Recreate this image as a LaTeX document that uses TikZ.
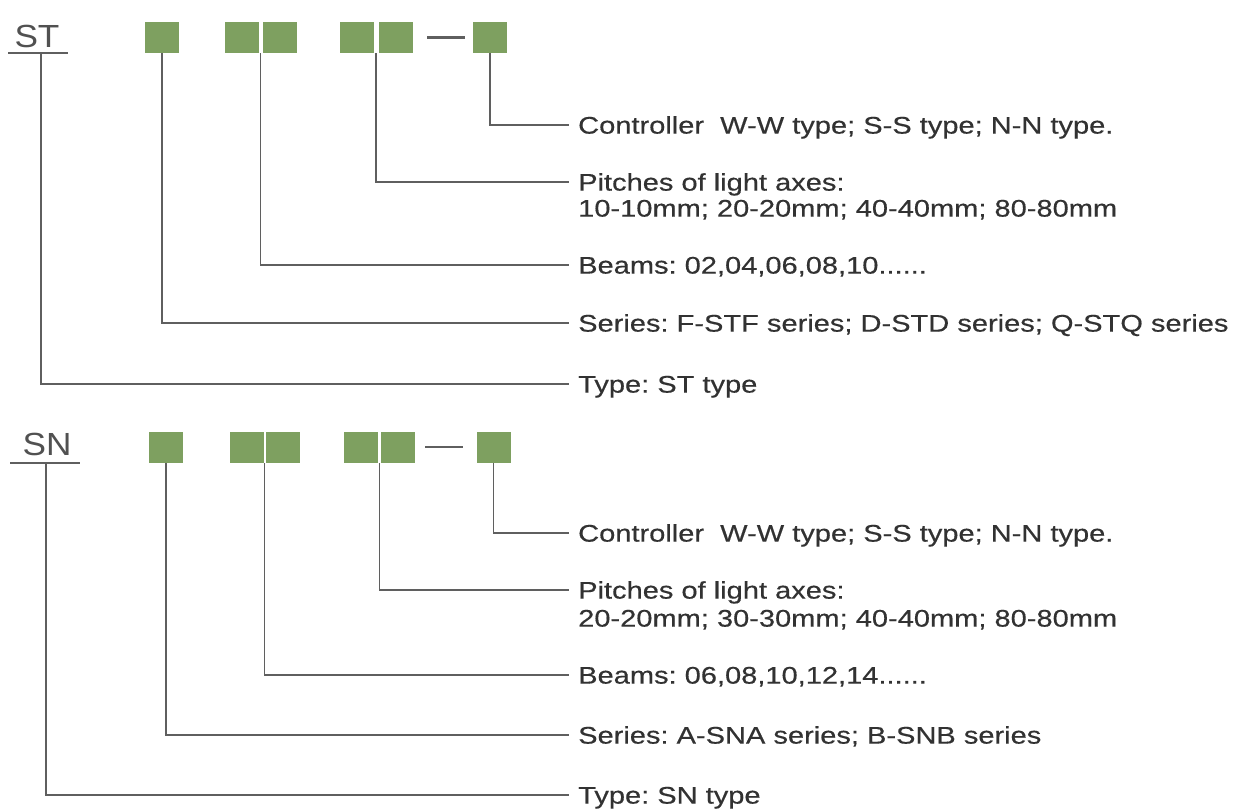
\documentclass[tikz,border=0pt]{standalone}
\usepackage{fontspec}
\setmainfont{Liberation Sans}
\newfontfamily\lblfont[FakeStretch=1.21,FakeBold=0.4]{Liberation Sans}
\newfontfamily\bigfont[FakeStretch=1.1]{Liberation Sans}
\usetikzlibrary{calc}
\definecolor{sqgreen}{RGB}{126,160,96}
\definecolor{lncol}{RGB}{95,95,95}
\definecolor{txcol}{RGB}{50,50,50}
\frenchspacing
\begin{document}
\begin{tikzpicture}[x=1pt,y=-1pt,
  sq/.style={fill=sqgreen,draw=none,minimum width=34pt,minimum height=31pt,inner sep=0pt},
  conn/.style={draw=lncol,line width=1.4pt},
  lbl/.style={anchor=west,inner xsep=9pt,inner ysep=0pt,text height=17.2pt,text depth=0pt,
    font=\lblfont\fontsize{24}{28}\selectfont,text=txcol},
  big/.style={inner sep=0pt,text height=22.9pt,text depth=0pt,
    font=\bigfont\fontsize{32}{36}\selectfont,text=txcol!85}]
\useasboundingbox (0,0) rectangle (1250,810);
\fill[white] (0,0) rectangle (1250,810);
% ---------------- ST ----------------
\node[big] (st) at (37,36) {ST};
\coordinate (stl) at (8,53);
\coordinate (str) at (68,53);
\coordinate (stfoot) at (41,53);
\draw[conn] (stl) -- (str);
\node[sq] (a1) at (162,37.5) {};
\node[sq] (a2) at (241.5,37.5) {};
\node[sq] (a3) at (279.5,37.5) {};
\node[sq] (a4) at (356.5,37.5) {};
\node[sq] (a5) at (395.5,37.5) {};
\node[sq] (a6) at (490,37.5) {};
\coordinate (ad1) at (427,37.5);
\coordinate (ad2) at (465,37.5);
\draw[lncol,line width=2.5pt] (ad1) -- (ad2);
\coordinate (ag23) at ($(a2.south east)!0.5!(a3.south west)$);
\coordinate (ag45) at ($(a4.south east)!0.5!(a5.south west)$);

\node[lbl] (actrl) at (569,125) {Controller\ \ W-W type; S-S type; N-N type.};
\node[lbl] (apitch) at (569,182) {Pitches of light axes:};
\node[lbl] (apitchb) at (569,208) {10-10mm; 20-20mm; 40-40mm; 80-80mm};
\node[lbl] (abeam) at (569,265) {Beams: 02,04,06,08,10......};
\node[lbl] (aser) at (569,323) {Series: F-STF series; D-STD series; Q-STQ series};
\node[lbl] (atype) at (569,384) {Type: ST type};

\draw[conn] (a6.south) |- (actrl.west);
\draw[conn] (ag45) |- (apitch.west);
\draw[conn] (ag23) |- (abeam.west);
\draw[conn] (a1.south) |- (aser.west);
\draw[conn] (stfoot) |- (atype.west);

% ---------------- SN ----------------
\node[big] (sn) at (47,444) {SN};
\coordinate (snl) at (10,463);
\coordinate (snr) at (80,463);
\coordinate (snfoot) at (46,463);
\draw[conn] (snl) -- (snr);
\node[sq] (b1) at (166,447.5) {};
\node[sq] (b2) at (246.5,447.5) {};
\node[sq] (b3) at (283,447.5) {};
\node[sq] (b4) at (361,447.5) {};
\node[sq] (b5) at (398,447.5) {};
\node[sq] (b6) at (493.5,447.5) {};
\coordinate (bd1) at (425,447);
\coordinate (bd2) at (463,447);
\draw[lncol,line width=2.5pt] (bd1) -- (bd2);
\coordinate (bg23) at ($(b2.south east)!0.5!(b3.south west)$);
\coordinate (bg45) at ($(b4.south east)!0.5!(b5.south west)$);

\node[lbl] (bctrl) at (569,533) {Controller\ \ W-W type; S-S type; N-N type.};
\node[lbl] (bpitch) at (569,590) {Pitches of light axes:};
\node[lbl] (bpitchb) at (569,618) {20-20mm; 30-30mm; 40-40mm; 80-80mm};
\node[lbl] (bbeam) at (569,675) {Beams: 06,08,10,12,14......};
\node[lbl] (bser) at (569,735) {Series: A-SNA series; B-SNB series};
\node[lbl] (btype) at (569,795) {Type: SN type};

\draw[conn] (b6.south) |- (bctrl.west);
\draw[conn] (bg45) |- (bpitch.west);
\draw[conn] (bg23) |- (bbeam.west);
\draw[conn] (b1.south) |- (bser.west);
\draw[conn] (snfoot) |- (btype.west);
\end{tikzpicture}
\end{document}
